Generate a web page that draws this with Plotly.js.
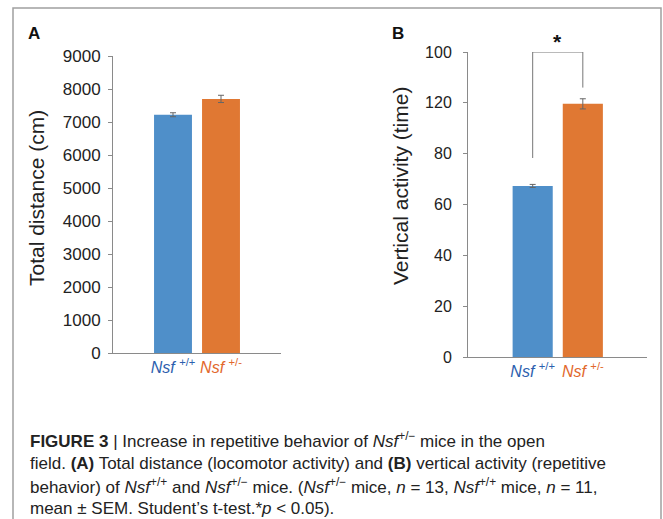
<!DOCTYPE html>
<html>
<head>
<meta charset="utf-8">
<script src="https://cdn.plot.ly/plotly-3.0.1.min.js"></script>
<style>html,body{margin:0;padding:0;background:#fff;}#chart{width:663px;height:519px;}</style>
</head>
<body>
<div id="chart"></div>
<script>
// ---- data ----
var categories = ["Nsf+/+", "Nsf+/-"];
var categoryLabels = ['<span style="color:#2d5fae"><i>Nsf</i> <sup>+/+</sup></span>',
                      '<span style="color:#e2682d"><i>Nsf</i> <sup>+/-</sup></span>'];
var totalDistance = [7220, 7700];
var totalDistanceSEM = [60, 110];
var verticalActivity = [67.3, 99.6];
var verticalActivitySEM = [0.6, 2.0];
var distanceTicks = [0, 1000, 2000, 3000, 4000, 5000, 6000, 7000, 8000, 9000];
var verticalTickVals = [0, 20, 40, 60, 80, 100, 120];
var verticalTickText = ["0", "20", "40", "60", "80", "120", "100"];
var barColors = ["#4f8fc9", "#e07833"];
var captionLines = [
  '<b>FIGURE 3</b> | Increase in repetitive behavior of <i>Nsf</i><sup>+/−</sup> mice in the open',
  'field. <b>(A)</b> Total distance (locomotor activity) and <b>(B)</b> vertical activity (repetitive',
  'behavior) of <i>Nsf</i><sup>+/+</sup> and <i>Nsf</i><sup>+/−</sup> mice. (<i>Nsf</i><sup>+/−</sup> mice, <i>n</i> = 13, <i>Nsf</i><sup>+/+</sup> mice, <i>n</i> = 11,',
  'mean ± SEM. Student’s t-test.*<i>p</i> &lt; 0.05).'
];

// ---- layout helpers ----
var W = 663, H = 519;
function px(x) { return x / W; }
function py(y) { return 1 - y / H; }

var errStyle = {type: 'data', visible: true, color: '#666', thickness: 1, width: 3};

var traces = [
  {type: 'bar', x: categories, y: totalDistance, xaxis: 'x', yaxis: 'y',
   marker: {color: barColors}, width: 0.79,
   error_y: Object.assign({array: totalDistanceSEM}, errStyle), hoverinfo: 'none'},
  {type: 'bar', x: categories, y: verticalActivity, xaxis: 'x2', yaxis: 'y2',
   marker: {color: barColors}, width: 0.8,
   error_y: Object.assign({array: verticalActivitySEM}, errStyle), hoverinfo: 'none'}
];

var font = '"Liberation Sans", Arial, Helvetica, sans-serif';
var capFont = '"Liberation Sans", Arial, sans-serif';

function ann(o) {
  return Object.assign({xref: 'paper', yref: 'paper', xanchor: 'center', yanchor: 'middle', showarrow: false}, o);
}

var annotations = [
  ann({text: '<b>A</b>', x: px(34), y: py(33), font: {family: font, size: 17, color: '#111'}}),
  ann({text: '<b>B</b>', x: px(398), y: py(33), font: {family: font, size: 17, color: '#111'}}),
  ann({text: 'Total distance (cm)', textangle: -90, x: px(37), y: py(198),
       font: {family: font, size: 21, color: '#222'}}),
  ann({text: 'Vertical activity (time)', textangle: -90, x: px(401), y: py(186),
       font: {family: font, size: 21, color: '#222'}}),
  ann({text: '<b>*</b>', x: 0.5, xref: 'x2', y: py(41), font: {family: font, size: 21, color: '#111'}})
];
var capY = [440, 463, 486, 508];
captionLines.forEach(function (t, i) {
  annotations.push(ann({text: t, x: px(28), y: py(capY[i]), xanchor: 'left', align: 'left',
    font: {family: capFont, size: 17, color: '#222'}}));
});

var shapes = [
  // figure border
  {type: 'rect', xref: 'paper', yref: 'paper', x0: px(13), x1: px(661), y0: py(530), y1: py(8),
   line: {color: '#a0a0a0', width: 1.5}, fillcolor: 'rgba(0,0,0,0)', layer: 'above'},
  // significance bracket
  {type: 'path', xref: 'x2', yref: 'y2',
   path: 'M 0,78.3 L 0,120 L 1,120 L 1,106', line: {color: '#777', width: 1}}
];

var axisCommon = {showgrid: false, zeroline: false, showline: true, linecolor: '#8a8a8a', linewidth: 1,
  fixedrange: true};

var layout = {
  width: W, height: H, margin: {l: 0, r: 0, t: 0, b: 0},
  paper_bgcolor: '#fff', plot_bgcolor: 'rgba(0,0,0,0)', showlegend: false,
  font: {family: font, color: '#222'},
  xaxis: Object.assign({}, axisCommon, {domain: [px(113), px(281)], anchor: 'y', range: [-1.25, 2.25],
    tickvals: categories, ticktext: categoryLabels, ticks: '', tickfont: {size: 16, family: font}}),
  yaxis: Object.assign({}, axisCommon, {domain: [py(353), py(56)], anchor: 'x', range: [0, 9000],
    tickvals: distanceTicks, ticks: 'outside', ticklen: 4, tickcolor: '#8a8a8a',
    tickfont: {size: 17, family: font, color: '#222'}, ticklabelstandoff: 4}),
  xaxis2: Object.assign({}, axisCommon, {domain: [px(468), px(647)], anchor: 'y2', range: [-1.29, 2.28],
    tickvals: categories, ticktext: categoryLabels, ticks: '', tickfont: {size: 16, family: font}}),
  yaxis2: Object.assign({}, axisCommon, {domain: [py(357), py(52)], anchor: 'x2', range: [0, 120],
    tickvals: verticalTickVals, ticktext: verticalTickText, ticks: 'outside', ticklen: 4, tickcolor: '#8a8a8a',
    tickfont: {size: 16, family: font, color: '#222'}, ticklabelstandoff: 8}),
  annotations: annotations,
  shapes: shapes
};

Plotly.newPlot('chart', traces, layout, {staticPlot: true, displayModeBar: false});
</script>
</body>
</html>
